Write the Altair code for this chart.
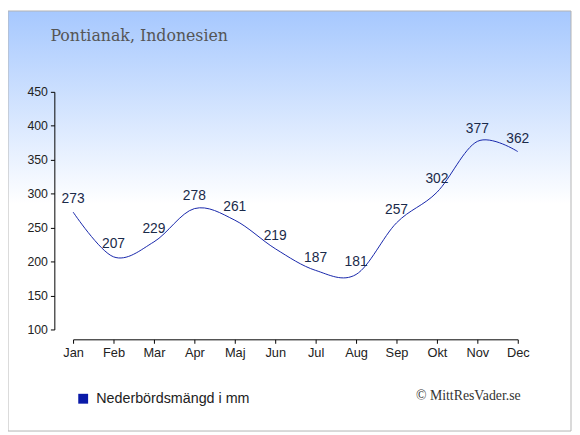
import altair as alt
import pandas as pd

months = ["Jan", "Feb", "Mar", "Apr", "Maj", "Jun", "Jul", "Aug", "Sep", "Okt", "Nov", "Dec"]
rain = [273, 207, 229, 278, 261, 219, 187, 181, 257, 302, 377, 362]
series_name = "Nederbördsmängd i mm"
title_text = "Pontianak, Indonesien"
credit_text = "© MittResVader.se"
y_ticks = [100, 150, 200, 250, 300, 350, 400, 450]

df = pd.DataFrame({"month": months, "rain": rain, "series": [series_name] * len(months)})
one = pd.DataFrame({"a": [0]})

W, H = 451, 241
PL, PT, PR, PB = 66, 82, 55, 104

bg = alt.Chart(one).mark_rect(
    fill=alt.Gradient(
        gradient="linear", x1=0, x2=0, y1=0, y2=1,
        stops=[alt.GradientStop(color="#a6c8fe", offset=0),
               alt.GradientStop(color="#ffffff", offset=0.46),
               alt.GradientStop(color="#ffffff", offset=1)]),
    stroke="#b4b4b4", strokeWidth=1,
).encode(x=alt.value(-PL), x2=alt.value(W + PR - 1), y=alt.value(-PT), y2=alt.value(H + PB - 1))

xscale = alt.Scale(type="point", padding=0)
yscale = alt.Scale(domain=[100, 450], nice=False, zero=False)
common = dict(grid=False, zindex=1, tickSize=4, ticks=True, domain=True,
              labelFont="Liberation Sans", labelColor="#222", domainColor="#000",
              tickColor="#000", labelPadding=3, title=None)
xaxis = alt.Axis(labelAngle=0, offset=10, labelFontSize=13, **common)
yaxis = alt.Axis(values=y_ticks, offset=19, labelOverlap=False, labelFontSize=12.5, **common)

line = alt.Chart(df).mark_line(interpolate="cardinal", strokeWidth=1).encode(
    x=alt.X("month:N", sort=months, scale=xscale, axis=xaxis),
    y=alt.Y("rain:Q", scale=yscale, axis=yaxis),
    color=alt.Color("series:N", scale=alt.Scale(range=["#1525aa"]),
                    legend=alt.Legend(title=None, orient="none", legendX=3, legendY=304,
                                      symbolType="square", symbolSize=100,
                                      symbolFillColor="#0a1aa8", symbolStrokeWidth=0,
                                      labelFont="Liberation Sans", labelFontSize=14.5,
                                      labelColor="#222", labelOffset=6, padding=0)),
)

labels = alt.Chart(df).mark_text(dy=-9, baseline="alphabetic", font="Liberation Sans",
                                 fontSize=14, color="#1a2a4a").encode(
    x=alt.X("month:N", sort=months, scale=xscale, axis=xaxis),
    y=alt.Y("rain:Q", scale=yscale, axis=yaxis),
    text="rain:Q")

title = alt.Chart(pd.DataFrame({"t": [title_text]})).mark_text(
    align="left", baseline="alphabetic", font="DejaVu Serif", fontSize=16, color="#555"
).encode(x=alt.value(-23), y=alt.value(-52), text="t:N")

credit = alt.Chart(pd.DataFrame({"t": [credit_text]})).mark_text(
    align="right", baseline="alphabetic", font="Liberation Serif", fontSize=14, color="#333"
).encode(x=alt.value(454), y=alt.value(313), text="t:N")

chart = alt.layer(bg, line, labels, title, credit).properties(
    width=W, height=H,
    autosize=alt.AutoSizeParams(type="none"),
    padding={"left": PL, "top": PT, "right": PR, "bottom": PB},
).configure_view(stroke=None).configure(background="#ffffff")

chart.save("out.html", embed_options={"renderer": "svg", "actions": False})
